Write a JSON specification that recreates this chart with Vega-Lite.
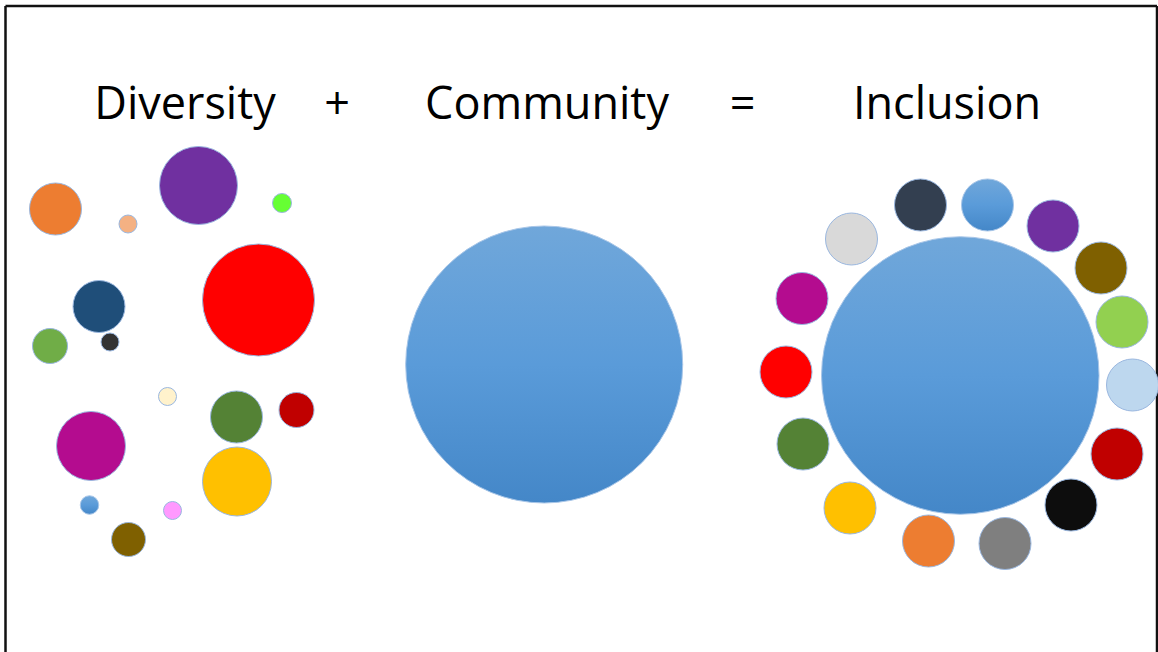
{
  "$schema": "https://vega.github.io/schema/vega-lite/v6.json",
  "autosize": {"type": "none"},
  "width": 1158,
  "height": 652,
  "padding": 0,
  "background": "white",
  "view": {"stroke": null},
  "datasets": {
    "frame": [
      {"x": 5.5, "y": 6, "x2": 5.5, "y2": 652},
      {"x": 5.5, "y": 6, "x2": 1157, "y2": 6},
      {"x": 1157, "y": 6, "x2": 1157, "y2": 652}
    ],
    "dots": [
      {"x": 55.5, "y": 209, "d": 52, "c": "orange"},
      {"x": 128, "y": 224, "d": 18, "c": "peach"},
      {"x": 198.5, "y": 185.5, "d": 78, "c": "purple"},
      {"x": 282, "y": 203, "d": 19, "c": "lime"},
      {"x": 258.5, "y": 300, "d": 112, "c": "red"},
      {"x": 99, "y": 306.5, "d": 52, "c": "navy"},
      {"x": 50, "y": 346, "d": 35, "c": "green"},
      {"x": 110, "y": 342, "d": 18, "c": "charcoal"},
      {"x": 167.5, "y": 396.5, "d": 18, "c": "cream"},
      {"x": 236.5, "y": 417, "d": 52, "c": "darkgreen"},
      {"x": 296.5, "y": 410, "d": 35, "c": "darkred"},
      {"x": 91, "y": 446, "d": 69, "c": "magenta"},
      {"x": 237, "y": 481.5, "d": 69, "c": "gold"},
      {"x": 172.5, "y": 510.5, "d": 18, "c": "pink"},
      {"x": 128.5, "y": 539.5, "d": 34, "c": "brown"},
      {"x": 851.5, "y": 239, "d": 52, "c": "lightgray"},
      {"x": 920.5, "y": 205, "d": 52, "c": "slate"},
      {"x": 1053, "y": 226, "d": 52, "c": "purple"},
      {"x": 1101, "y": 268, "d": 52, "c": "brown"},
      {"x": 1122, "y": 322, "d": 52, "c": "lightgreen"},
      {"x": 1132.5, "y": 385, "d": 52, "c": "paleblue"},
      {"x": 1117, "y": 454, "d": 52, "c": "darkred"},
      {"x": 1071, "y": 505, "d": 52, "c": "black"},
      {"x": 1005, "y": 543.5, "d": 52, "c": "gray"},
      {"x": 928.5, "y": 541, "d": 52, "c": "orange"},
      {"x": 850, "y": 508, "d": 52, "c": "gold"},
      {"x": 803, "y": 444, "d": 52, "c": "darkgreen"},
      {"x": 786, "y": 372, "d": 52, "c": "red"},
      {"x": 802, "y": 298.5, "d": 52, "c": "magenta"}
    ],
    "blues": [
      {"x": 544.2, "y": 364.5, "d": 277},
      {"x": 960.3, "y": 375.5, "d": 277.5},
      {"x": 987.5, "y": 205, "d": 52},
      {"x": 89.5, "y": 505, "d": 18.5}
    ],
    "words": [
      {"x": 185, "y": 119, "t": "Diversity"},
      {"x": 337, "y": 119, "t": "+"},
      {"x": 547, "y": 119, "t": "Community"},
      {"x": 742.5, "y": 119, "t": "="},
      {"x": 947, "y": 119, "t": "Inclusion"}
    ]
  },
  "layer": [
    {
      "data": {"name": "frame"},
      "mark": {"type": "rule", "color": "#111111", "strokeWidth": 2.5},
      "encoding": {
        "x": {"field": "x", "type": "quantitative", "scale": {"domain": [0, 1158], "nice": false, "zero": false}, "axis": null},
        "y": {"field": "y", "type": "quantitative", "scale": {"domain": [0, 652], "nice": false, "zero": false, "reverse": true}, "axis": null},
        "x2": {"field": "x2"},
        "y2": {"field": "y2"}
      }
    },
    {
      "data": {"name": "dots"},
      "mark": {"type": "point", "shape": "circle", "filled": true, "opacity": 1, "stroke": "#9ab7df", "strokeWidth": 1},
      "encoding": {
        "x": {"field": "x", "type": "quantitative"},
        "y": {"field": "y", "type": "quantitative"},
        "size": {"field": "d", "type": "quantitative", "scale": {"type": "pow", "exponent": 2, "domain": [0, 100], "range": [0, 10000]}, "legend": null},
        "fill": {
          "field": "c", "type": "nominal", "legend": null,
          "scale": {
            "domain": ["orange", "peach", "purple", "lime", "red", "navy", "green", "charcoal", "cream", "darkgreen", "darkred", "magenta", "gold", "pink", "brown", "lightgray", "slate", "lightgreen", "paleblue", "black", "gray"],
            "range": ["#ed7d31", "#f4b183", "#7030a0", "#66ff33", "#ff0000", "#1f4e79", "#70ad47", "#333333", "#fff2cc", "#548235", "#c00000", "#b40c8f", "#ffc000", "#ff99ff", "#7f6000", "#d9d9d9", "#333f50", "#92d050", "#bdd7ee", "#0d0d0d", "#7f7f7f"]
          }
        }
      }
    },
    {
      "data": {"name": "blues"},
      "mark": {
        "type": "point", "shape": "circle", "filled": true, "opacity": 1, "stroke": "#a8c6e8", "strokeWidth": 1,
        "fill": {"gradient": "linear", "x1": 0, "y1": 0, "x2": 0, "y2": 1,
          "stops": [{"offset": 0, "color": "#70a7da"}, {"offset": 0.5, "color": "#5a9bd9"}, {"offset": 1, "color": "#4487c8"}]}
      },
      "encoding": {
        "x": {"field": "x", "type": "quantitative"},
        "y": {"field": "y", "type": "quantitative"},
        "size": {"field": "d", "type": "quantitative", "legend": null}
      }
    },
    {
      "data": {"name": "words"},
      "mark": {"type": "text", "font": "Open Sans", "fontSize": 45, "fontWeight": "normal", "color": "#000000", "align": "center", "baseline": "alphabetic"},
      "encoding": {
        "x": {"field": "x", "type": "quantitative"},
        "y": {"field": "y", "type": "quantitative"},
        "text": {"field": "t", "type": "nominal"}
      }
    }
  ]
}
